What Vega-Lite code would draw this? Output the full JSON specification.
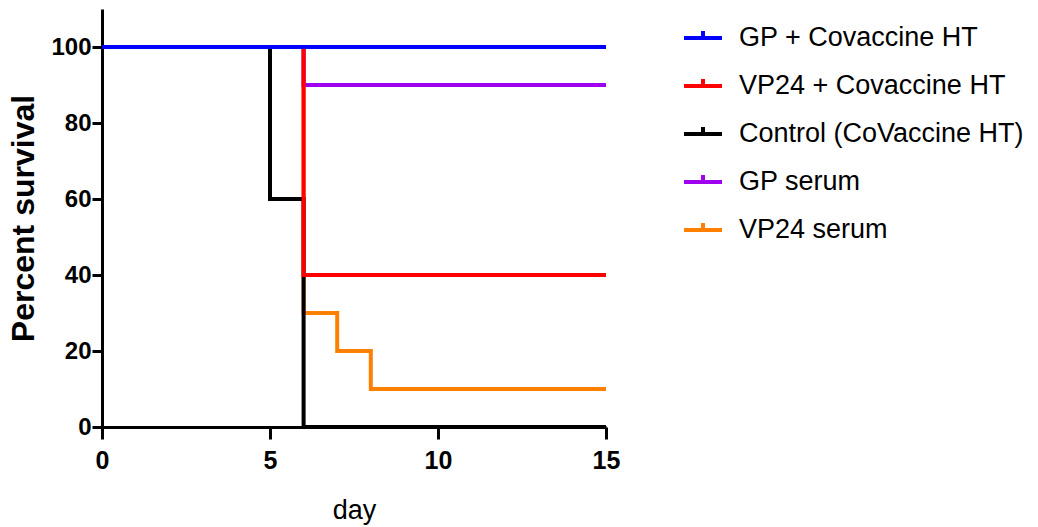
{
  "$schema": "https://vega.github.io/schema/vega-lite/v6.json",
  "width": 504,
  "height": 418,
  "autosize": {"type": "none"},
  "padding": {"left": 102, "top": 9, "right": 432, "bottom": 100},
  "background": "white",
  "config": {
    "view": {"stroke": null},
    "font": "Liberation Sans"
  },
  "data": {
    "values": [
      {"group": "GP + Covaccine HT", "day": 0, "survival": 100},
      {"group": "GP + Covaccine HT", "day": 15, "survival": 100},
      {"group": "VP24 + Covaccine HT", "day": 0, "survival": 100},
      {"group": "VP24 + Covaccine HT", "day": 6, "survival": 40},
      {"group": "VP24 + Covaccine HT", "day": 15, "survival": 40},
      {"group": "Control (CoVaccine HT)", "day": 0, "survival": 100},
      {"group": "Control (CoVaccine HT)", "day": 5, "survival": 60},
      {"group": "Control (CoVaccine HT)", "day": 6, "survival": 0},
      {"group": "Control (CoVaccine HT)", "day": 15, "survival": 0},
      {"group": "GP serum", "day": 0, "survival": 100},
      {"group": "GP serum", "day": 6, "survival": 90},
      {"group": "GP serum", "day": 15, "survival": 90},
      {"group": "VP24 serum", "day": 0, "survival": 100},
      {"group": "VP24 serum", "day": 6, "survival": 30},
      {"group": "VP24 serum", "day": 7, "survival": 20},
      {"group": "VP24 serum", "day": 8, "survival": 10},
      {"group": "VP24 serum", "day": 15, "survival": 10}
    ]
  },
  "encoding": {
    "x": {
      "field": "day", "type": "quantitative",
      "scale": {"domain": [0, 15], "nice": false, "zero": false},
      "axis": {
        "values": [0, 5, 10, 15],
        "grid": false,
        "title": "day",
        "titleFont": "Liberation Sans",
        "titleFontSize": 27,
        "titleFontWeight": "normal",
        "titleColor": "black",
        "titleY": 91,
        "titleBaseline": "alphabetic",
        "labelFont": "Liberation Sans",
        "labelFontSize": 25,
        "labelFontWeight": "bold",
        "labelColor": "black",
        "labelPadding": 9,
        "tickSize": 12,
        "tickWidth": 3,
        "tickColor": "black",
        "domainColor": "black",
        "domainWidth": 3,
        "labelFlush": false,
        "labelOverlap": false
      }
    },
    "y": {
      "field": "survival", "type": "quantitative",
      "scale": {"domain": [0, 110], "nice": false},
      "axis": {
        "values": [0, 20, 40, 60, 80, 100],
        "grid": false,
        "title": "Percent survival",
        "titleFont": "Liberation Sans",
        "titleFontSize": 32,
        "titleFontWeight": "bold",
        "titleColor": "black",
        "titleAngle": 270,
        "titleX": -69,
        "titleY": 209,
        "titleAlign": "center",
        "titleBaseline": "alphabetic",
        "labelFont": "Liberation Sans",
        "labelFontSize": 24,
        "labelFontWeight": "bold",
        "labelColor": "black",
        "labelPadding": 1,
        "tickSize": 10,
        "tickWidth": 3,
        "tickColor": "black",
        "domainColor": "black",
        "domainWidth": 3,
        "labelFlush": false,
        "labelOverlap": false
      }
    },
    "color": {
      "field": "group", "type": "nominal",
      "scale": {
        "domain": ["GP + Covaccine HT", "VP24 + Covaccine HT", "Control (CoVaccine HT)", "GP serum", "VP24 serum"],
        "range": ["#0000FF", "#FF0000", "#000000", "#A000F0", "#FF8000"]
      },
      "legend": {
        "title": null,
        "orient": "none",
        "legendX": 580,
        "legendY": 8,
        "symbolType": "M-1,0H1M0,0V-0.37",
        "symbolSize": 1444,
        "symbolStrokeWidth": 4,
        "symbolFillColor": "transparent",
        "labelFont": "Liberation Sans",
        "labelFontSize": 27,
        "labelColor": "black",
        "labelOffset": 15,
        "labelLimit": 400,
        "rowPadding": 14,
        "padding": 0
      }
    }
  },
  "layer": [
    {"transform": [{"filter": "datum.group === 'VP24 serum'"}], "mark": {"type": "line", "interpolate": "step-after", "strokeWidth": 4}},
    {"transform": [{"filter": "datum.group === 'GP serum'"}], "mark": {"type": "line", "interpolate": "step-after", "strokeWidth": 4}},
    {"transform": [{"filter": "datum.group === 'Control (CoVaccine HT)'"}], "mark": {"type": "line", "interpolate": "step-after", "strokeWidth": 4}},
    {"transform": [{"filter": "datum.group === 'VP24 + Covaccine HT'"}], "mark": {"type": "line", "interpolate": "step-after", "strokeWidth": 4}},
    {"transform": [{"filter": "datum.group === 'GP + Covaccine HT'"}], "mark": {"type": "line", "interpolate": "step-after", "strokeWidth": 4}}
  ]
}
